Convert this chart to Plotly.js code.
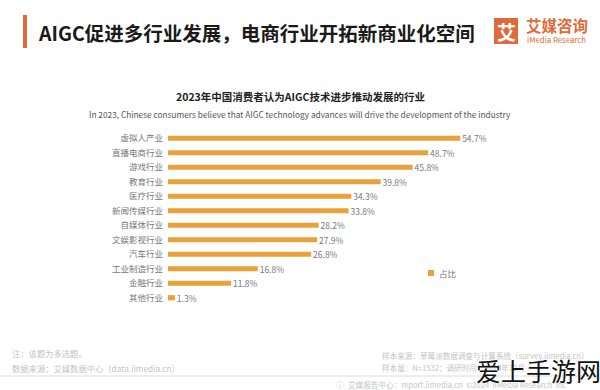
<!DOCTYPE html>
<html>
<head>
<meta charset="utf-8">
<script src="https://cdn.plot.ly/plotly-3.0.1.min.js"></script>
<style>
  html, body { margin: 0; padding: 0; background: #ffffff; }
  #chart { width: 600px; height: 390px; }
</style>
</head>
<body>
<div id="chart"></div>
<script>
// ---- data ----
const categories = ["虚拟人产业", "直播电商行业", "游戏行业", "教育行业", "医疗行业", "新闻传媒行业",
                    "自媒体行业", "文娱影视行业", "汽车行业", "工业制造行业", "金融行业", "其他行业"];
const shares = [54.7, 48.7, 45.8, 39.8, 34.3, 33.8, 28.2, 27.9, 26.8, 16.8, 11.8, 1.3];
const seriesName = "占比";
const headerTitle = "AIGC促进多行业发展，电商行业开拓新商业化空间";
const chartTitle = "2023年中国消费者认为AIGC技术进步推动发展的行业";
const chartSubtitle = "In 2023, Chinese consumers believe that AIGC technology advances will drive the development of the industry";
const footLeft = ["注：该题为多选题。", "数据来源：艾媒数据中心（data.iimedia.cn）"];
const footRight = ["样本来源：草莓派数据调查与计算系统（survey.iimedia.cn）", "样本量：N=1532；调研时间：2023年12月"];
const footBottom = "艾媒报告中心：report.iimedia.cn  ©2024  iiMedia Research  Inc";
const watermark = "爱上手游网";

const FONT = '"Noto Sans CJK SC", "Noto Sans", sans-serif';
const BAR = "#E9A23B";
const ACCENT = "#DF6B3B";

const trace = {
  type: "bar",
  orientation: "h",
  x: shares,
  y: categories,
  name: seriesName,
  width: 0.36,
  marker: { color: BAR },
  text: shares.map(v => "\u00a0" + v.toFixed(1) + "%"),
  textposition: "outside",
  textfont: { family: FONT, size: 8.5, color: "#777777" },
  constraintext: "none",
  cliponaxis: false,
  showlegend: false,
  hoverinfo: "skip"
};

const ann = [];
function T(text, x, y, size, color, opts) {
  ann.push(Object.assign({
    text: text, x: x, y: y, xref: "paper", yref: "paper", showarrow: false,
    font: { family: FONT, size: size, color: color },
    xanchor: "left", yanchor: "middle"
  }, opts || {}));
}
// paper coords helpers (pixel -> paper)
const L = 168, R = 58, TOP = 131, B = 85, W = 600, H = 390;
const pw = W - L - R, ph = H - TOP - B;
const px = x => (x - L) / pw;
const py = y => (H - B - y) / ph;

T("<b>" + headerTitle + "</b>", px(36), py(33), 19.5, "#1a1a1a");
T("<b>艾</b>", px(506), py(31), 19, "#ffffff", { xanchor: "center" });
T("<b>艾媒咨询</b>", px(524), py(25), 15.5, ACCENT);
T("iMedia Research", px(525), py(39), 7.8, ACCENT);
T("<b>" + chartTitle + "</b>", px(300), py(96), 10.5, "#222222", { xanchor: "center" });
T(chartSubtitle, px(300), py(114), 8.3, "#555555", { xanchor: "center" });
T(seriesName, px(437), py(273), 8.5, "#777777");
T(footLeft[0], px(10), py(353), 8.3, "#c4c4c4");
T(footLeft[1], px(10), py(368), 8.3, "#c4c4c4");
T(footRight[0], px(380), py(355), 7.6, "#c4c4c4");
T(footRight[1], px(380), py(367), 7.6, "#c4c4c4");
T(footBottom, px(346), py(384), 7.6, "#c4c4c4");
T("ⓘ", px(334), py(384), 8, "#c4c4c4");
T(watermark, px(474), py(370), 25, "#111111");

const shapes = [
  { type: "rect", xref: "paper", yref: "paper", x0: px(23), x1: px(27), y0: py(15), y1: py(48), fillcolor: ACCENT, line: { width: 0 } },
  { type: "rect", xref: "paper", yref: "paper", x0: px(494), x1: px(518), y0: py(18), y1: py(44), fillcolor: ACCENT, line: { width: 0 } },
  { type: "rect", xref: "paper", yref: "paper", x0: px(428), x1: px(434), y0: py(270), y1: py(276), fillcolor: BAR, line: { width: 0 } },
  { type: "line", xref: "paper", yref: "paper", x0: px(0), x1: px(600), y0: py(376), y1: py(376), line: { color: "#dddddd", width: 1 } }
];

const layout = {
  width: W, height: H,
  margin: { l: L, r: R, t: TOP, b: B, pad: 0 },
  paper_bgcolor: "#ffffff",
  plot_bgcolor: "#ffffff",
  font: { family: FONT, size: 8.5, color: "#666666" },
  bargap: 0.6,
  showlegend: false,
  xaxis: { range: [0, 70], visible: false, fixedrange: true },
  yaxis: {
    type: "category",
    categoryorder: "array",
    categoryarray: categories,
    autorange: "reversed",
    showgrid: false, zeroline: false, showline: false,
    ticks: "", ticklabelstandoff: 4,
    tickfont: { family: FONT, size: 8.5, color: "#777777" },
    fixedrange: true
  },
  annotations: ann,
  shapes: shapes
};

Plotly.newPlot("chart", [trace], layout, { displayModeBar: false, staticPlot: true });
</script>
</body>
</html>
